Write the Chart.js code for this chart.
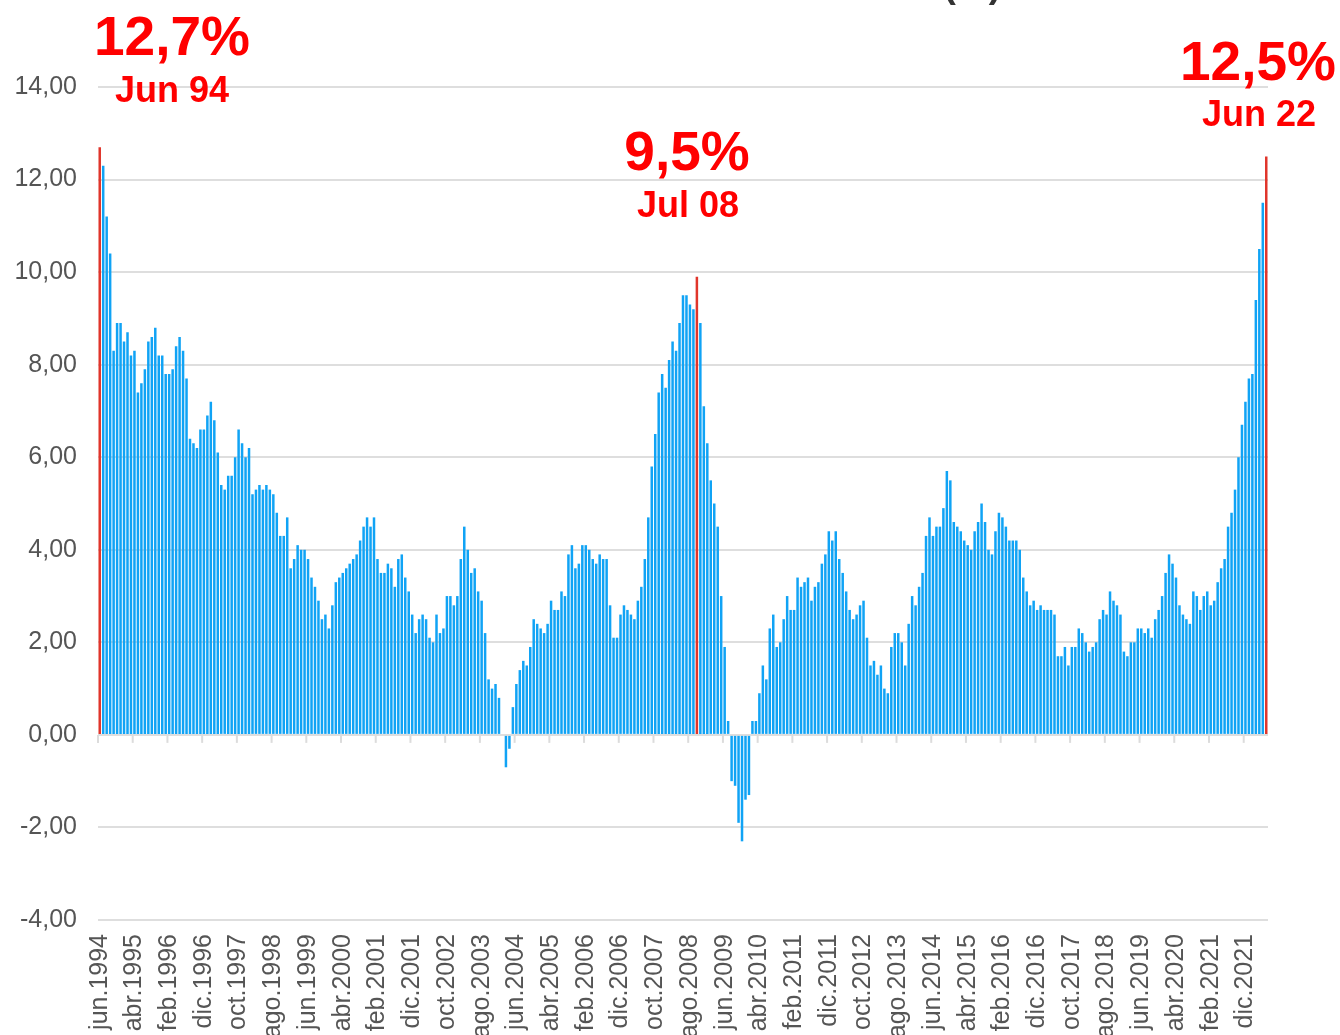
<!DOCTYPE html>
<html>
<head>
<meta charset="utf-8">
<script src="https://cdn.jsdelivr.net/npm/chart.js@4.4.1/dist/chart.umd.min.js"></script>
<style>
  html, body { margin: 0; padding: 0; background: #ffffff; }
  #wrap { width: 1340px; height: 1035px; overflow: hidden; }
</style>
</head>
<body>
<div id="wrap"><canvas id="c" width="1340" height="1035"></canvas></div>
<script>
// ---- Data (monthly 12-month inflation, %) ----
const monthNames = ['ene','feb','mar','abr','may','jun','jul','ago','sep','oct','nov','dic'];
const startYear = 1994, startMonth = 5, endYear = 2022, endMonth = 5;

const v1994 = [12.7, 12.3, 11.2, 10.4, 8.3, 8.9, 8.9];               // jun-dic
const v1995 = [8.5, 8.7, 8.2, 8.3, 7.4, 7.6, 7.9, 8.5, 8.6, 8.8, 8.2, 8.2];
const v1996 = [7.8, 7.8, 7.9, 8.4, 8.6, 8.3, 7.7, 6.4, 6.3, 6.2, 6.6, 6.6];
const v1997 = [6.9, 7.2, 6.8, 6.1, 5.4, 5.3, 5.6, 5.6, 6.0, 6.6, 6.3, 6.0];
const v1998 = [6.2, 5.2, 5.3, 5.4, 5.3, 5.4, 5.3, 5.2, 4.8, 4.3, 4.3, 4.7];
const v1999 = [3.6, 3.8, 4.1, 4.0, 4.0, 3.8, 3.4, 3.2, 2.9, 2.5, 2.6, 2.3];
const v2000 = [2.8, 3.3, 3.4, 3.5, 3.6, 3.7, 3.8, 3.9, 4.2, 4.5, 4.7, 4.5];
const v2001 = [4.7, 3.8, 3.5, 3.5, 3.7, 3.6, 3.2, 3.8, 3.9, 3.4, 3.1, 2.6];
const v2002 = [2.2, 2.5, 2.6, 2.5, 2.1, 2.0, 2.6, 2.2, 2.3, 3.0, 3.0, 2.8];
const v2003 = [3.0, 3.8, 4.5, 4.0, 3.5, 3.6, 3.1, 2.9, 2.2, 1.2, 1.0, 1.1];
const v2004 = [0.8, 0.0, -0.7, -0.3, 0.6, 1.1, 1.4, 1.6, 1.5, 1.9, 2.5, 2.4];
const v2005 = [2.3, 2.2, 2.4, 2.9, 2.7, 2.7, 3.1, 3.0, 3.9, 4.1, 3.6, 3.7];
const v2006 = [4.1, 4.1, 4.0, 3.8, 3.7, 3.9, 3.8, 3.8, 2.8, 2.1, 2.1, 2.6];
const v2007 = [2.8, 2.7, 2.6, 2.5, 2.9, 3.2, 3.8, 4.7, 5.8, 6.5, 7.4, 7.8];
const v2008 = [7.5, 8.1, 8.5, 8.3, 8.9, 9.5, 9.5, 9.3, 9.2, 9.9, 8.9, 7.1];
const v2009 = [6.3, 5.5, 5.0, 4.5, 3.0, 1.9, 0.3, -1.0, -1.1, -1.9, -2.3, -1.4];
const v2010 = [-1.3, 0.3, 0.3, 0.9, 1.5, 1.2, 2.3, 2.6, 1.9, 2.0, 2.5, 3.0];
const v2011 = [2.7, 2.7, 3.4, 3.2, 3.3, 3.4, 2.9, 3.2, 3.3, 3.7, 3.9, 4.4];
const v2012 = [4.2, 4.4, 3.8, 3.5, 3.1, 2.7, 2.5, 2.6, 2.8, 2.9, 2.1, 1.5];
const v2013 = [1.6, 1.3, 1.5, 1.0, 0.9, 1.9, 2.2, 2.2, 2.0, 1.5, 2.4, 3.0];
const v2014 = [2.8, 3.2, 3.5, 4.3, 4.7, 4.3, 4.5, 4.5, 4.9, 5.7, 5.5, 4.6];
const v2015 = [4.5, 4.4, 4.2, 4.1, 4.0, 4.4, 4.6, 5.0, 4.6, 4.0, 3.9, 4.4];
const v2016 = [4.8, 4.7, 4.5, 4.2, 4.2, 4.2, 4.0, 3.4, 3.1, 2.8, 2.9, 2.7];
const v2017 = [2.8, 2.7, 2.7, 2.7, 2.6, 1.7, 1.7, 1.9, 1.5, 1.9, 1.9, 2.3];
const v2018 = [2.2, 2.0, 1.8, 1.9, 2.0, 2.5, 2.7, 2.6, 3.1, 2.9, 2.8, 2.6];
const v2019 = [1.8, 1.7, 2.0, 2.0, 2.3, 2.3, 2.2, 2.3, 2.1, 2.5, 2.7, 3.0];
const v2020 = [3.5, 3.9, 3.7, 3.4, 2.8, 2.6, 2.5, 2.4, 3.1, 3.0, 2.7, 3.0];
const v2021 = [3.1, 2.8, 2.9, 3.3, 3.6, 3.8, 4.5, 4.8, 5.3, 6.0, 6.7, 7.2];
const v2022 = [7.7, 7.8, 9.4, 10.5, 11.5, 12.5];                      // ene-jun

const tickLabels = ['jun.1994','abr.1995','feb.1996','dic.1996','oct.1997','ago.1998','jun.1999',
  'abr.2000','feb.2001','dic.2001','oct.2002','ago.2003','jun.2004','abr.2005','feb.2006','dic.2006',
  'oct.2007','ago.2008','jun.2009','abr.2010','feb.2011','dic.2011','oct.2012','ago.2013','jun.2014',
  'abr.2015','feb.2016','dic.2016','oct.2017','ago.2018','jun.2019','abr.2020','feb.2021','dic.2021'];

const highlighted = ['jun.1994', 'oct.2008', 'jun.2022'];   // bars drawn in red

const annotations = [
  { text: '12,7%',  x: 172,  y: 55,  size: 55 },
  { text: 'Jun 94', x: 172,  y: 102, size: 36 },
  { text: '9,5%',   x: 687,  y: 170, size: 55 },
  { text: 'Jul 08', x: 688,  y: 217, size: 36 },
  { text: '12,5%',  x: 1258, y: 80,  size: 55 },
  { text: 'Jun 22', x: 1259, y: 126, size: 36 }
];

// ---- Build categories and values ----
const categories = [];
for (let y = startYear; y <= endYear; y++) {
  const m0 = (y === startYear) ? startMonth : 0;
  const m1 = (y === endYear) ? endMonth : 11;
  for (let m = m0; m <= m1; m++) categories.push(monthNames[m] + '.' + y);
}
const values = [].concat(v1994, v1995, v1996, v1997, v1998, v1999, v2000, v2001, v2002, v2003,
  v2004, v2005, v2006, v2007, v2008, v2009, v2010, v2011, v2012, v2013, v2014, v2015, v2016,
  v2017, v2018, v2019, v2020, v2021, v2022);

const BLUE = 'rgb(16,163,245)';
const RED = '#e0352b';
const colors = categories.map(c => highlighted.includes(c) ? RED : BLUE);

const FONT = "'Liberation Sans', Arial, Helvetica, sans-serif";

const extrasPlugin = {
  id: 'extras',
  afterDraw(chart) {
    const ctx = chart.ctx;
    const xs = chart.scales.x, ys = chart.scales.y;
    const y0 = ys.getPixelForValue(0);
    const slot = xs.getPixelForValue(1) - xs.getPixelForValue(0);
    ctx.save();
    // tick marks on the zero line, at every labelled category
    ctx.strokeStyle = '#dcdcdc';
    ctx.lineWidth = 2;
    categories.forEach((c, i) => {
      if (tickLabels.includes(c)) {
        const x = xs.getPixelForValue(i) - slot / 2;
        ctx.beginPath();
        ctx.moveTo(x, y0);
        ctx.lineTo(x, y0 + 8);
        ctx.stroke();
      }
    });
    // red annotations
    ctx.fillStyle = '#ff0000';
    ctx.textAlign = 'center';
    ctx.textBaseline = 'alphabetic';
    annotations.forEach(a => {
      ctx.font = 'bold ' + a.size + 'px ' + FONT;
      ctx.fillText(a.text, a.x, a.y);
    });
    // title (mostly cut off at the top of the picture)
    ctx.fillStyle = '#333333';
    ctx.textAlign = 'right';
    ctx.textBaseline = 'alphabetic';
    ctx.font = 'bold 37px ' + FONT;
    ctx.fillText('Inflación anual (%)', 1001, -3);
    ctx.restore();
  }
};

new Chart(document.getElementById('c'), {
  type: 'bar',
  data: {
    labels: categories,
    datasets: [{
      data: values,
      backgroundColor: colors,
      borderWidth: 0,
      barPercentage: 0.72,
      categoryPercentage: 1.0
    }]
  },
  options: {
    responsive: false,
    animation: false,
    devicePixelRatio: 1,
    layout: { padding: { left: 0, right: 72, top: 87, bottom: 0 } },
    plugins: { legend: { display: false }, tooltip: { enabled: false }, title: { display: false } },
    scales: {
      x: {
        type: 'category',
        offset: true,
        grid: { display: false, drawTicks: false },
        border: { display: false },
        ticks: {
          autoSkip: false,
          maxRotation: 90,
          minRotation: 90,
          padding: 14,
          color: '#555555',
          font: { family: FONT, size: 25 },
          callback: function (v, i) {
            const lab = categories[i];
            return tickLabels.includes(lab) ? lab : null;
          }
        },
        afterFit: s => { s.height = 115; }
      },
      y: {
        min: -4,
        max: 14,
        grid: { color: '#dedede', lineWidth: 2, drawTicks: false },
        border: { display: false },
        ticks: {
          stepSize: 2,
          padding: 21,
          color: '#555555',
          font: { family: FONT, size: 25 },
          callback: v => v.toFixed(2).replace('.', ',')
        },
        afterFit: s => { s.width = 98; }
      }
    }
  },
  plugins: [extrasPlugin]
});
</script>
</body>
</html>
